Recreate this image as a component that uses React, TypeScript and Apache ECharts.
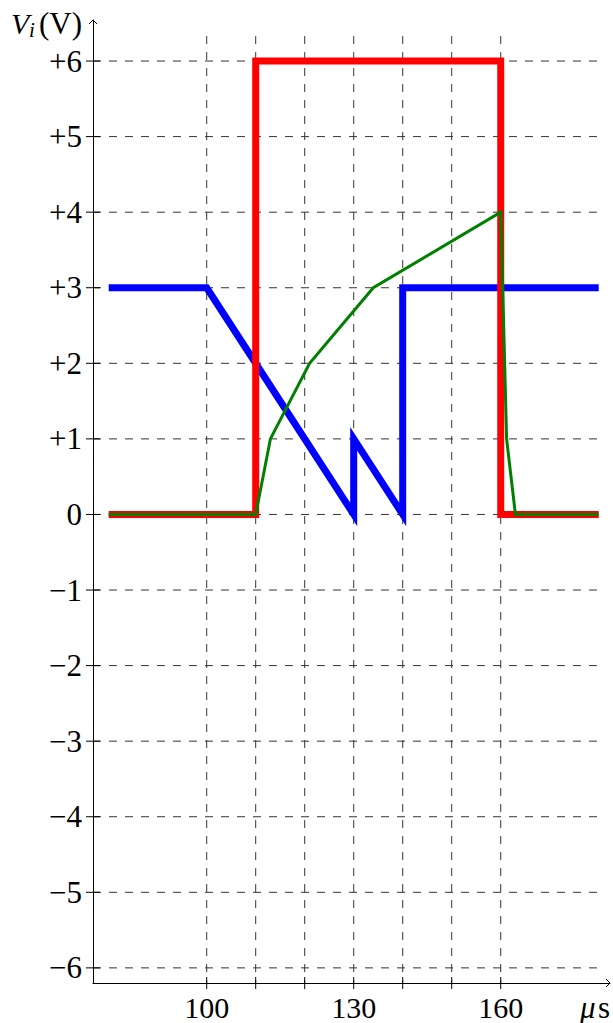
import React, { useEffect, useRef } from "react";
import * as echarts from "echarts";

// ---- data ----
const xGridTicks = [100, 110, 120, 130, 140, 150, 160];
const xLabelTicks = [100, 130, 160];
const yTicks = [-6, -5, -4, -3, -2, -1, 0, 1, 2, 3, 4, 5, 6];

const redX = [80, 110, 110, 160, 160, 180];
const redY = [0, 0, 6, 6, 0, 0];

const blueX = [80, 100, 130, 130, 140, 140, 180];
const blueY = [3, 3, 0, 1, 0, 3, 3];

const greenX = [80, 110, 113, 121, 134, 160, 161.2, 163, 180];
const greenY = [0, 0, 1, 2, 3, 4, 1, 0, 0];

// ---- axis ranges ----
const X_MIN = 76.8;
const X_MAX = 182.3;
const Y_MIN = -6.2;
const Y_MAX = 6.543;
const GRID_X_END = 180.3;
const GRID_Y_TOP = 6.33;

// ---- layout ----
const W = 613;
const H = 1023;
const GRID_LEFT = 93;
const GRID_TOP = 20;
const GRID_W = 517;
const GRID_H = 963;

const FONT = "Liberation Serif";
const GRID_COLOR = "#333";

const zip = (xs: number[], ys: number[]) => xs.map((x, i) => [x, ys[i]]);

const fmtY = (v: number) =>
  v > 0 ? "+" + v : v < 0 ? "\u2212" + -v : "0";

export default function App() {
  const ref = useRef<HTMLDivElement>(null);

  useEffect(() => {
    if (!ref.current) return;
    const chart = echarts.init(ref.current, null, { renderer: "svg" });

    const xRight = GRID_LEFT + GRID_W;
    const yBottom = GRID_TOP + GRID_H;

    const option: any = {
      animation: false,
      backgroundColor: "#fff",
      textStyle: { fontFamily: FONT },
      grid: {
        left: GRID_LEFT,
        top: GRID_TOP,
        width: GRID_W,
        height: GRID_H,
        containLabel: false,
        outerBoundsMode: "none",
      },
      xAxis: {
        type: "value",
        min: X_MIN,
        max: X_MAX,
        axisLine: { show: true, onZero: false, lineStyle: { color: "#000", width: 1 } },
        axisTick: { show: false },
        splitLine: { show: false },
        axisLabel: {
          customValues: xLabelTicks,
          margin: 9,
          color: "#000",
          fontFamily: FONT,
          fontSize: 30,
        },
      },
      yAxis: {
        type: "value",
        min: Y_MIN,
        max: Y_MAX,
        axisLine: { show: true, onZero: false, lineStyle: { color: "#000", width: 1 } },
        axisTick: { show: false },
        splitLine: { show: false },
        axisLabel: {
          customValues: yTicks,
          margin: 11,
          color: "#000",
          fontFamily: FONT,
          fontSize: 31,
          formatter: (v: number) => fmtY(v),
        },
      },
      series: [
        {
          type: "custom",
          silent: true,
          z: 1,
          data: xGridTicks.map((v) => [v, 0]),
          renderItem: (params: any, api: any) => {
            const x = api.coord([api.value(0), 0])[0];
            const yb = api.coord([X_MIN, Y_MIN])[1];
            const yt = api.coord([X_MIN, GRID_Y_TOP])[1];
            return {
              type: "group",
              children: [
                {
                  type: "line",
                  shape: { x1: x, y1: yt, x2: x, y2: yb },
                  style: { stroke: GRID_COLOR, lineWidth: 1, lineDash: [8, 8] },
                },
                {
                  type: "line",
                  shape: { x1: x, y1: yb - 6, x2: x, y2: yb + 6 },
                  style: { stroke: "#000", lineWidth: 1 },
                },
              ],
            };
          },
        },
        {
          type: "custom",
          silent: true,
          z: 1,
          data: yTicks.map((v) => [X_MIN, v]),
          renderItem: (params: any, api: any) => {
            const y = api.coord([X_MIN, api.value(1)])[1];
            const xl = api.coord([X_MIN, 0])[0];
            const xr = api.coord([GRID_X_END, 0])[0];
            return {
              type: "group",
              children: [
                {
                  type: "line",
                  shape: { x1: xl, y1: y, x2: xr, y2: y },
                  style: { stroke: GRID_COLOR, lineWidth: 1, lineDash: [8, 8] },
                },
                {
                  type: "line",
                  shape: { x1: xl - 7, y1: y, x2: xl + 7, y2: y },
                  style: { stroke: "#000", lineWidth: 1 },
                },
              ],
            };
          },
        },
        {
          type: "line",
          name: "blue",
          data: zip(blueX, blueY),
          symbol: "none",
          z: 3,
          lineStyle: { color: "#0000ff", width: 7, join: "miter", miterLimit: 10, cap: "butt" },
        },
        {
          type: "line",
          name: "red",
          data: zip(redX, redY),
          symbol: "none",
          z: 4,
          lineStyle: { color: "#ff0000", width: 7, join: "miter", miterLimit: 10, cap: "butt" },
        },
        {
          type: "line",
          name: "green",
          data: zip(greenX, greenY),
          symbol: "none",
          z: 5,
          lineStyle: { color: "#008000", width: 3, join: "miter", miterLimit: 10, cap: "butt" },
        },
      ],
      graphic: [
        {
          type: "polyline",
          silent: true,
          shape: { points: [[xRight - 4, yBottom - 4], [xRight, yBottom], [xRight - 4, yBottom + 4]] },
          style: { stroke: "#000", lineWidth: 1, fill: "none" },
        },
        {
          type: "polyline",
          silent: true,
          shape: { points: [[GRID_LEFT - 4, GRID_TOP + 4], [GRID_LEFT, GRID_TOP], [GRID_LEFT + 4, GRID_TOP + 4]] },
          style: { stroke: "#000", lineWidth: 1, fill: "none" },
        },
        {
          type: "text",
          x: 11,
          y: 23,
          style: { text: "V", fontFamily: FONT, fontStyle: "italic", fontSize: 30, fill: "#000", verticalAlign: "middle" },
        },
        {
          type: "text",
          x: 29,
          y: 30,
          style: { text: "i", fontFamily: FONT, fontStyle: "italic", fontSize: 21, fill: "#000", verticalAlign: "middle" },
        },
        {
          type: "text",
          x: 39,
          y: 23,
          style: { text: "(V)", fontFamily: FONT, fontSize: 31, fill: "#000", verticalAlign: "middle" },
        },
        {
          type: "text",
          x: 580,
          y: 1007,
          style: { text: "\u03bc", fontFamily: FONT, fontStyle: "italic", fontSize: 31, fill: "#000", verticalAlign: "middle" },
        },
        {
          type: "text",
          x: 598,
          y: 1007,
          style: { text: "s", fontFamily: FONT, fontSize: 31, fill: "#000", verticalAlign: "middle" },
        },
      ],
    };

    chart.setOption(option);
    return () => chart.dispose();
  }, []);

  return (
    <div
      ref={ref}
      style={{ position: "fixed", left: 0, top: 0, width: W, height: H, background: "#fff" }}
    />
  );
}
